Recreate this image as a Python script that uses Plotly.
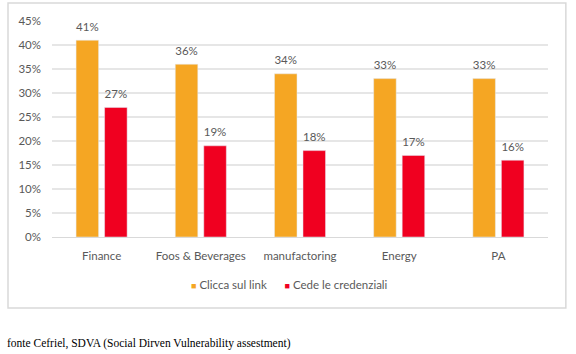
import plotly.graph_objects as go

categories = ["Finance", "Foos & Beverages", "manufactoring", "Energy", "PA"]
clicca = [0.41, 0.36, 0.34, 0.33, 0.33]
cede = [0.27, 0.19, 0.18, 0.17, 0.16]
series_names = ["Clicca sul link", "Cede le credenziali"]
footer = "fonte Cefriel, SDVA (Social Dirven Vulnerability assestment)"

ORANGE = "#F5A623"
RED = "#F00020"
GRAY = "#595959"
FONT = "Lato"
FS = 11.5
GAP = 0.425

fig = go.Figure()
series = [(clicca, series_names[0], ORANGE, "a"), (cede, series_names[1], RED, "b")]
for vals, name, col, grp in series:
    fig.add_bar(x=categories, y=vals, name=name, marker_color=col,
                offsetgroup=grp, alignmentgroup="g", showlegend=False)
for vals, name, col, grp in series:
    fig.add_scatter(x=categories, y=vals, mode="markers+text", name=name,
                    offsetgroup=grp, alignmentgroup="g",
                    text=[f"{v:.0%}" for v in vals], textposition="top center",
                    marker=dict(size=9, color="rgba(0,0,0,0)"),
                    textfont=dict(color=GRAY, size=FS, family=FONT),
                    cliponaxis=False, showlegend=False, hoverinfo="skip")

legend_text = (f"<span style='color:{ORANGE};font-size:9px'>■</span> {series_names[0]}"
               f"      <span style='color:{RED};font-size:9px'>■</span> {series_names[1]}")

fig.update_layout(
    width=576, height=354,
    margin=dict(l=52, r=28, t=21, b=117),
    paper_bgcolor="white", plot_bgcolor="white",
    barmode="group", bargap=GAP, bargroupgap=0.21,
    scattermode="group", scattergap=GAP,
    font=dict(family=FONT, size=FS, color=GRAY),
    showlegend=False,
    xaxis=dict(showgrid=False, showline=True, linecolor="#D9D9D9", linewidth=1,
               ticks="", tickfont=dict(size=FS, color=GRAY), ticklabelstandoff=8),
    yaxis=dict(range=[0, 0.45], dtick=0.05, tickformat=".0%", showgrid=True,
               gridcolor="#E6E6E6", gridwidth=1.5, zeroline=False, showline=False,
               ticks="", tickfont=dict(size=FS, color=GRAY), ticklabelstandoff=10),
    shapes=[dict(type="rect", xref="paper", yref="paper",
                 x0=-0.0887, x1=1.036, y0=-0.329, y1=1.083,
                 line=dict(color="#D9D9D9", width=1.5), layer="below")],
    annotations=[
        dict(text=legend_text, xref="paper", yref="paper", x=0.479, y=-0.222,
             xanchor="center", yanchor="middle", showarrow=False,
             font=dict(family=FONT, size=FS, color=GRAY)),
        dict(text=footer, xref="paper", yref="paper", x=-0.094, y=-0.491,
             xanchor="left", yanchor="middle", showarrow=False,
             font=dict(family="Liberation Serif", size=11.5, color="black")),
    ],
)

fig.write_html("out.html")
